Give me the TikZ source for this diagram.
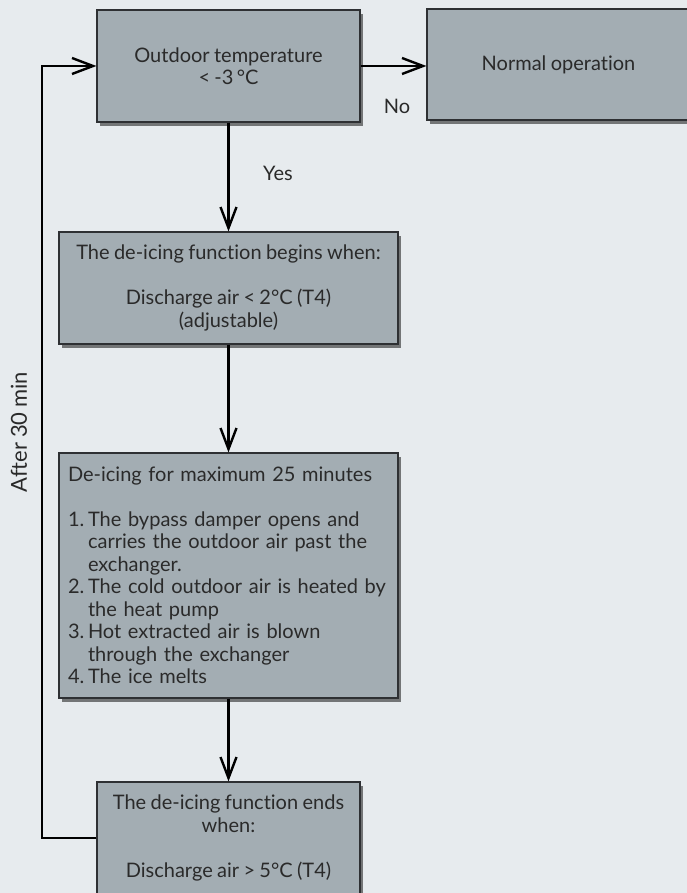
\documentclass[tikz,border=0pt]{standalone}
\usepackage{fontspec}
\setmainfont{Lato}[WordSpace=0.85, Ligatures=NoCommon]
\usetikzlibrary{arrows.meta,shadows}
\definecolor{bgc}{HTML}{E7EBEE}
\definecolor{boxc}{HTML}{A3ADB3}
\definecolor{edgec}{HTML}{2E3033}
\definecolor{txtc}{HTML}{2A2A2A}
\newcommand{\itemnum}[1]{\makebox[20pt][l]{#1}}
\newcommand{\itemcont}{\hspace*{20pt}}
\begin{document}
\begin{tikzpicture}[x=1pt,y=-1pt,
  box/.style={draw=edgec, line width=1.2pt, fill=boxc, text=txtc, inner sep=0pt,
    drop shadow={shadow xshift=3pt, shadow yshift=-4pt, opacity=0.5, fill=black},
    font=\fontsize{20}{22.5}\selectfont, align=center},
  conn/.style={line width=2.4pt, -{Straight Barb[length=21pt,width=16pt,line width=2.4pt]}},
  lbl/.style={text=txtc, font=\fontsize{20}{22.5}\selectfont, inner sep=0pt}]
\useasboundingbox (0,0) rectangle (687,893);
\fill[bgc] (0,0) rectangle (687,893);
\clip (0,0) rectangle (687,893);
\node[box, minimum width=263pt, minimum height=112pt] (b1) at (228.5,66) {Outdoor temperature\\< -3\,°C};
\node[box, minimum width=263pt, minimum height=111pt] (b2) at (558.5,64.5) {Normal operation};
\node[box, minimum width=339pt, minimum height=112pt] (b3) at (228.5,288) {The de-icing function begins when:\\[22.5pt]Discharge air < 2°C (T4)\\(adjustable)};
\node[box, minimum width=339pt, minimum height=245pt, text width=321pt, align=left] (b4) at (228.5,575.5) {De-icing for maximum 25 minutes\\[22.5pt]
\itemnum{1.}The bypass damper opens and\\
\itemcont carries the outdoor air past the\\
\itemcont exchanger.\\
\itemnum{2.}The cold outdoor air is heated by\\
\itemcont the heat pump\\
\itemnum{3.}Hot extracted air is blown\\
\itemcont through the exchanger\\
\itemnum{4.}The ice melts};
\node[box, minimum width=263pt, minimum height=112pt] (b5) at (228.5,838) {The de-icing function ends\\when:\\[22.5pt]Discharge air > 5°C (T4)};
\node[lbl] (yes) at (278,173) {Yes};
\node[lbl] (no) at (397,106) {No};
\node[lbl, rotate=90, font=\fontsize{22}{24}\selectfont] (after) at (19,432) {After 30 min};
\coordinate (lp) at (42,66);
\draw[conn] (b1.east) -- (b1.east -| b2.west);
\draw[conn] (b1.south) -- (b3.north);
\draw[conn] (b3.south) -- (b4.north);
\draw[conn] (b4.south) -- (b5.north);
\draw[conn] (b5.west) -| (lp) -- (b1.west);
\end{tikzpicture}
\end{document}
